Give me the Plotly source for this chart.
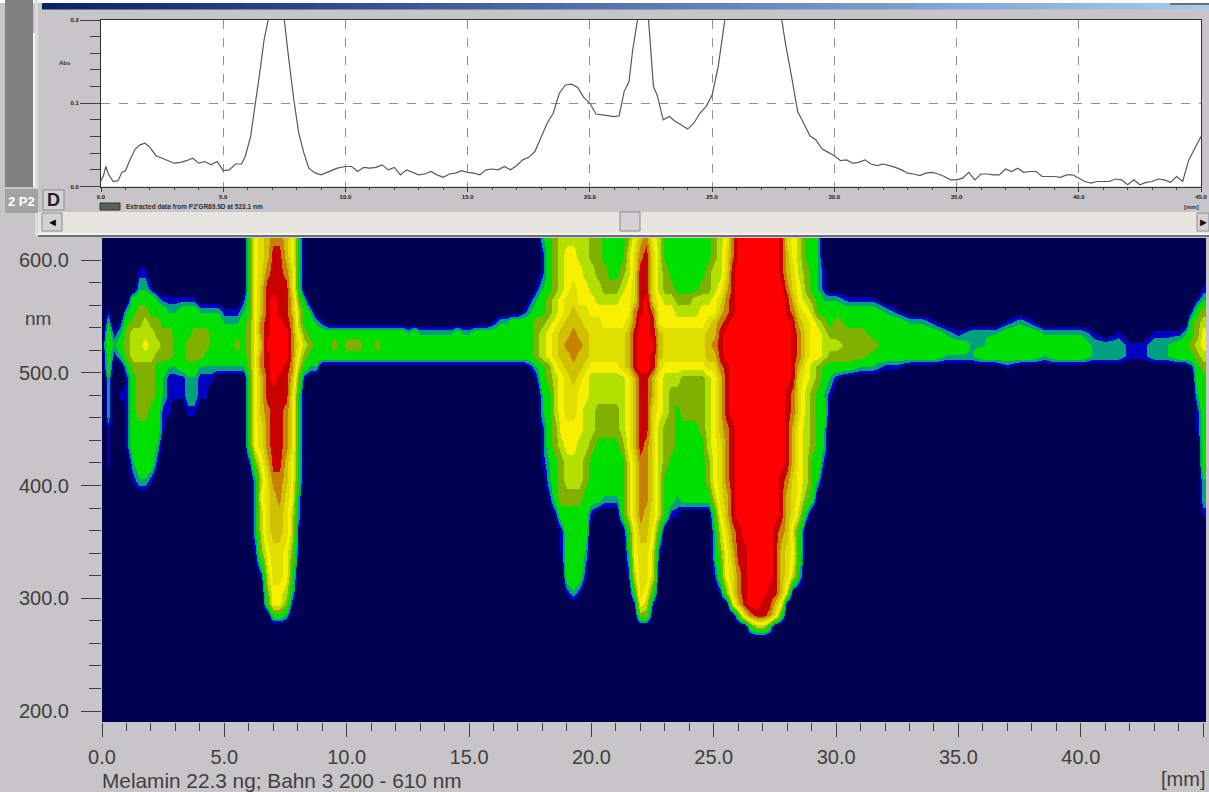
import plotly.graph_objects as go

W, H = 1209, 792
BG = "#c8c5c8"
INK = "#404040"

# Absorbance trace (upper panel): position in mm, absorbance in AU
curve_mm = [0.0,0.1,0.2,0.3,0.5,0.7,0.85,1.0,1.2,1.4,1.6,1.8,2.0,2.25,2.5,2.75,3.0,3.25,3.5,3.75,4.0,4.25,4.5,4.75,5.0,5.25,5.5,5.75,5.9,6.12,6.33,6.53,6.67,6.83,7.0,7.15,7.3,7.5,7.67,7.88,8.09,8.3,8.5,8.78,9.0,9.3,9.67,
10.0,10.25,10.5,10.75,11.0,11.25,11.5,11.75,12.0,12.25,12.5,12.75,13.0,13.25,13.5,13.75,14.0,14.25,14.5,14.75,15.0,15.25,15.5,15.75,16.0,16.25,16.5,16.75,17.0,17.25,17.5,17.75,18.0,18.25,18.5,18.75,19.0,19.25,19.5,19.75,20.0,20.25,20.5,20.75,21.0,21.2,21.4,21.6,21.75,21.95,22.15,22.4,22.6,22.75,23.0,23.25,23.5,23.75,24.0,24.25,24.5,24.75,25.0,25.25,25.5,26.0,26.8,27.5,27.85,28.0,28.25,28.5,28.75,29.0,29.25,29.5,29.75,
30.0,30.25,30.5,30.75,31.0,31.25,31.5,31.75,32.0,32.25,32.5,32.75,33.0,33.25,33.5,33.75,34.0,34.25,34.5,34.75,35.0,35.25,35.5,35.75,36.0,36.25,36.5,36.75,37.0,37.25,37.5,37.75,38.0,38.25,38.5,38.75,39.0,39.25,39.5,39.75,40.0,40.25,40.5,40.75,41.0,41.25,41.5,41.75,42.0,42.25,42.5,42.75,43.0,43.25,43.5,43.75,44.0,44.25,44.5,44.75,45.0]
curve_abs = [.007,.013,.024,.015,.006,.007,.017,.019,.033,.045,.05,.052,.047,.037,.034,.031,.028,.029,.031,.034,.028,.03,.026,.03,.019,.02,.027,.027,.036,.06,.1,.144,.176,.2,.235,.245,.235,.2,.156,.106,.064,.04,.022,.016,.014,.018,.022,
.024,.024,.018,.023,.022,.023,.026,.02,.023,.014,.02,.017,.014,.015,.018,.014,.011,.015,.016,.019,.017,.016,.014,.02,.021,.02,.024,.02,.025,.032,.035,.042,.058,.076,.088,.112,.122,.123,.119,.107,.1,.087,.086,.085,.084,.085,.114,.126,.164,.2,.25,.2,.12,.11,.08,.084,.078,.074,.069,.076,.088,.096,.11,.144,.2,.3,.36,.3,.2,.172,.132,.09,.076,.061,.056,.045,.041,
.037,.031,.032,.028,.029,.032,.027,.025,.027,.025,.023,.02,.016,.015,.013,.016,.017,.015,.012,.008,.008,.01,.017,.008,.015,.015,.014,.014,.021,.018,.022,.017,.018,.018,.012,.012,.012,.011,.014,.014,.01,.006,.004,.006,.006,.006,.009,.008,.002,.008,.002,.005,.006,.009,.008,.005,.012,.006,.032,.046,.06]

# Contour map (lower panel): rows are wavelengths, characters are colour levels 0-b
wavelength_nm = [620,605,590,575,565,555,545,535,525,515,505,495,480,465,450,435,420,405,390,375,360,340,320,305,295,285,275,265,190]

# one group per mm, 4 columns each, 0-30 mm
levels_0_30mm = [
"0000 0000 0000 0000 0000 0000 3678 9986 3000 0000 0000 0000 0000 0000 0000 0000 0000 0000 2345 5555 4433 3346 8965 3333 3333 4569 bbbb bbba 7653 3200",
"0000 0000 0000 0000 0000 0000 3678 aa86 3000 0000 0000 0000 0000 0000 0000 0000 0000 0000 1345 6655 4433 3357 9a75 3333 3333 4579 bbbb bbba 8653 3200",
"0000 0011 0000 0000 0000 0000 3679 aa97 3000 0000 0000 0000 0000 0000 0000 0000 0000 0000 1345 6665 5443 3457 aa75 4333 3334 557a bbbb bbba 8754 3210",
"0000 0022 1000 0000 0000 0000 368a aaa7 3000 0000 0000 0000 0000 0000 0000 0000 0000 0001 2345 6766 5544 4567 aa75 4433 3344 568a bbbb bbbb 9764 3210",
"0000 0333 3211 1111 0000 0001 368a baa8 4200 0000 0000 0000 0000 0000 0000 0000 0000 0012 3456 7766 6555 5667 ab76 5544 4555 679a bbbb bbbb a865 4322",
"0100 2344 3332 2333 2222 1112 368a baa8 5320 0000 0000 0000 0000 0000 0000 0000 0000 0123 3456 7877 6666 6669 ab96 6655 5566 689a bbbb bbbb a976 5333",
"0201 3445 4433 3333 3333 2223 469a bba9 5332 1000 0000 0000 0000 0000 0000 0000 1223 3334 4567 8887 7766 6679 bba6 6666 6667 89ab bbbb bbbb ba87 6543",
"0312 4555 5444 3334 4433 3333 469a bbb9 6433 3333 3333 3333 3323 2222 2232 2333 3333 3334 5678 8988 7777 778a bba8 7777 7778 8abb bbbb bbbb ba97 6654",
"1323 4556 5544 3344 4433 3343 468b bbb9 7543 3343 4443 3433 3333 3333 3333 3333 3333 3334 5678 9998 7777 778a bbb8 7777 7778 9abb bbbb bbbb ba97 6655",
"0312 4555 5444 3344 4333 3333 469a bbb9 6433 3333 3333 3333 3333 3333 3333 3333 3333 3334 5678 8988 7777 778a bba8 7777 7778 8abb bbbb bbbb ba97 6654",
"0300 2444 4332 2333 2222 2222 469a bba9 5322 0000 0000 0000 0000 0000 0000 0000 0000 0012 3467 8887 6666 678a bba7 6666 6667 79ab bbbb bbbb ba86 5433",
"0200 1344 4321 1122 1110 0000 368a baa8 4100 0000 0000 0000 0000 0000 0000 0000 0000 0001 3456 7876 5555 5568 aa86 5554 4445 68ab bbbb bbbb ba76 5432",
"0201 1344 4321 1122 1100 0000 368a aaa7 3000 0000 0000 0000 0000 0000 0000 0000 0000 0000 2356 7766 5555 5568 aa86 5444 4445 68ab bbbb bbbb a975 4321",
"0200 1344 3311 0011 0000 0000 3689 aa97 3000 0000 0000 0000 0000 0000 0000 0000 0000 0000 2356 7765 5444 4568 aa76 5434 4445 68ab bbbb bbbb a975 4330",
"0100 1333 3310 0000 0000 0000 3679 aa97 3000 0000 0000 0000 0000 0000 0000 0000 0000 0000 1346 6665 5444 4568 aa75 4433 3345 689a bbbb bbbb a865 4320",
"0100 1333 3200 0000 0000 0000 3679 aa97 3000 0000 0000 0000 0000 0000 0000 0000 0000 0000 1345 6655 4333 3468 a975 4433 3335 679a bbbb bbbb a865 4320",
"0100 0233 3100 0000 0000 0000 1468 aa86 3000 0000 0000 0000 0000 0000 0000 0000 0000 0000 1234 5554 3333 3357 9975 4333 3334 679a bbbb bbbb a865 3310",
"0000 0122 1000 0000 0000 0000 0257 9986 3000 0000 0000 0000 0000 0000 0000 0000 0000 0000 0234 5554 3333 3357 9975 3333 3334 679a bbbb bbba 9765 3200",
"0000 0000 0000 0000 0000 0000 0267 8976 2000 0000 0000 0000 0000 0000 0000 0000 0000 0000 0134 4443 3322 2357 9975 3323 3333 578a bbbb bbba 8764 3000",
"0000 0000 0000 0000 0000 0000 0257 8875 2000 0000 0000 0000 0000 0000 0000 0000 0000 0000 0013 3333 1000 0357 9875 3110 0000 368a bbbb bbba 8752 0000",
"0000 0000 0000 0000 0000 0000 0257 8875 1000 0000 0000 0000 0000 0000 0000 0000 0000 0000 0001 3333 0000 0036 8863 0000 0000 2579 abbb bba9 8530 0000",
"0000 0000 0000 0000 0000 0000 0146 7764 1000 0000 0000 0000 0000 0000 0000 0000 0000 0000 0001 3332 0000 0026 7751 0000 0000 2468 aabb bba8 7630 0000",
"0000 0000 0000 0000 0000 0000 0015 7763 0000 0000 0000 0000 0000 0000 0000 0000 0000 0000 0000 3331 0000 0015 7750 0000 0000 1367 9abb bba8 7520 0000",
"0000 0000 0000 0000 0000 0000 0004 6652 0000 0000 0000 0000 0000 0000 0000 0000 0000 0000 0000 1210 0000 0003 7630 0000 0000 0147 9abb baa8 5000 0000",
"0000 0000 0000 0000 0000 0000 0003 6641 0000 0000 0000 0000 0000 0000 0000 0000 0000 0000 0000 0000 0000 0001 6510 0000 0000 0005 8abb aa86 0000 0000",
"0000 0000 0000 0000 0000 0000 0000 3320 0000 0000 0000 0000 0000 0000 0000 0000 0000 0000 0000 0000 0000 0000 4400 0000 0000 0000 379a a973 0000 0000",
"0000 0000 0000 0000 0000 0000 0000 0000 0000 0000 0000 0000 0000 0000 0000 0000 0000 0000 0000 0000 0000 0000 0000 0000 0000 0000 0035 5300 0000 0000",
"0000 0000 0000 0000 0000 0000 0000 0000 0000 0000 0000 0000 0000 0000 0000 0000 0000 0000 0000 0000 0000 0000 0000 0000 0000 0000 0000 0000 0000 0000",
"0000 0000 0000 0000 0000 0000 0000 0000 0000 0000 0000 0000 0000 0000 0000 0000 0000 0000 0000 0000 0000 0000 0000 0000 0000 0000 0000 0000 0000 0000",
]

# 30-44 mm in 0.5 mm columns, then 44, 44.25, 44.5, 44.75, 45, 45.1
levels_30_45mm = [
"00 00 00 00 00 00 00 00 00 00 00 00 00 00 000000",
"00 00 00 00 00 00 00 00 00 00 00 00 00 00 000000",
"00 00 00 00 00 00 00 00 00 00 00 00 00 00 000000",
"00 00 00 00 00 00 00 00 00 00 00 00 00 00 000011",
"21 11 00 00 00 00 00 00 00 00 00 00 00 00 000122",
"33 33 21 00 00 00 00 00 00 00 00 00 00 00 001344",
"43 33 33 22 10 00 00 12 10 00 00 00 00 00 003455",
"44 43 33 33 32 12 22 33 32 22 21 01 00 11 123466",
"54 44 33 33 33 32 23 33 33 33 32 22 11 22 334566",
"44 43 33 33 32 22 33 33 32 33 32 22 11 22 333455",
"33 22 11 00 00 00 00 10 00 00 00 00 00 00 001344",
"10 00 00 00 00 00 00 00 00 00 00 00 00 00 000333",
"00 00 00 00 00 00 00 00 00 00 00 00 00 00 000233",
"00 00 00 00 00 00 00 00 00 00 00 00 00 00 000133",
"00 00 00 00 00 00 00 00 00 00 00 00 00 00 000133",
"00 00 00 00 00 00 00 00 00 00 00 00 00 00 000033",
"00 00 00 00 00 00 00 00 00 00 00 00 00 00 000033",
"00 00 00 00 00 00 00 00 00 00 00 00 00 00 000022",
"00 00 00 00 00 00 00 00 00 00 00 00 00 00 000022",
"00 00 00 00 00 00 00 00 00 00 00 00 00 00 000011",
"00 00 00 00 00 00 00 00 00 00 00 00 00 00 000000",
"00 00 00 00 00 00 00 00 00 00 00 00 00 00 000000",
"00 00 00 00 00 00 00 00 00 00 00 00 00 00 000000",
"00 00 00 00 00 00 00 00 00 00 00 00 00 00 000000",
"00 00 00 00 00 00 00 00 00 00 00 00 00 00 000000",
"00 00 00 00 00 00 00 00 00 00 00 00 00 00 000000",
"00 00 00 00 00 00 00 00 00 00 00 00 00 00 000000",
"00 00 00 00 00 00 00 00 00 00 00 00 00 00 000000",
"00 00 00 00 00 00 00 00 00 00 00 00 00 00 000000",
]

level_colors = ["#000050","#0000c0","#00a080","#00e000","#80b000","#b4e000","#f8f000","#e0e000","#d0c000","#c88000","#c80000","#ff0000"]
# upper bound of each colour, in level units (outer rings are thin in the picture)
level_tops = [0.8,1.4,2.1,3.5,4.5,5.5,6.5,7.5,8.5,9.5,10.5,11.5]

column_mm = [i*0.25 for i in range(120)] + [30+i*0.5 for i in range(28)] + [44,44.25,44.5,44.75,45,45.1]

z = []
for n, (a, b) in enumerate(zip(levels_0_30mm, levels_30_45mm)):
    row = [int(c, 16) for c in (a+b).replace(" ", "")]
    if len(row) != len(column_mm):
        raise ValueError(f"row {n}: {len(row)} != {len(column_mm)}")
    z.append(row)
z = z[::-1]
nm_up = wavelength_nm[::-1]

ZMIN, ZMAX = -0.5, 11.5
def frac(v): return (v-ZMIN)/(ZMAX-ZMIN)
cs = []
low = ZMIN
for top, c in zip(level_tops, level_colors):
    cs += [[frac(low), c], [frac(top), c]]
    low = top

def fx(px): return px/W
def fy(py): return 1-py/H

fig = go.Figure()
fig.add_trace(go.Heatmap(x=column_mm, y=nm_up, z=z, zmin=ZMIN, zmax=ZMAX, colorscale=cs,
                         zsmooth="best", showscale=False, hoverinfo="skip", xaxis="x", yaxis="y"))
fig.add_trace(go.Scatter(x=curve_mm, y=curve_abs, mode="lines", line=dict(color="#585858", width=1.2),
                         showlegend=False, hoverinfo="skip", xaxis="x2", yaxis="y2"))

shapes = []
def rect(x0, y0, x1, y1, fill, line=None, layer="below"):
    shapes.append(dict(type="rect", xref="paper", yref="paper", x0=fx(x0), x1=fx(x1), y0=fy(y1), y1=fy(y0),
                       fillcolor=fill, line=dict(width=1 if line else 0, color=line or fill), layer=layer))

rect(0, 0, W, 3, "#ffffff")
rect(5, 0, 33, 187, "#7f7f7f")
rect(33, 33, 35, 187, "#f4f4f4")
rect(35, 0, 38, 236, "#dcdcdc")
rect(5, 189, 38, 213, "#a3a3a3")
rect(38, 212, W, 233, "#e6e5e0")
rect(38, 233, W, 235, "#f0f0f0")
rect(38, 235, W, 237, "#707070")
# title bar
steps = 80
for i in range(steps):
    t = i/(steps-1)
    col = "rgb(%d,%d,%d)" % (10+t*(166-10), 36+t*(202-36), 106+t*(240-106))
    x0 = 42+(W-42)*i/steps
    rect(x0, 3, x0+(W-42)/steps+0.5, 9.5, col)
rect(1170, 3, W, 5, "#707070")
# buttons
for (a, b, c, d) in [(43, 190, 64, 210), (42, 213, 62, 231), (620, 212, 640, 231), (1197, 213, W, 231)]:
    rect(a, b, c, d, "#d4d2d4", "#8a8a8a")
rect(100, 203, 120, 210, "#586058", "#303030")

def ann(text, x, y, size, anchor="left", color=INK, bold=False):
    return dict(text=f"<b>{text}</b>" if bold else text, xref="paper", yref="paper", x=fx(x), y=fy(y), showarrow=False,
                xanchor=anchor, yanchor="middle", font=dict(family="Liberation Sans", size=size, color=color))

annotations = [
    ann("Melamin 22.3 ng; Bahn 3 200 - 610 nm", 100, 780, 20.8),
    ann("[mm]", 1207, 779, 20, "right"),
    ann("nm", 38, 318, 19, "center"),
    ann("2 P2", 21, 201, 13, "center", "#ffffff", True),
    ann("D", 53, 200, 18, "center", "#202020", True),
    ann("◄", 52, 222, 11, "center", "#000000"),
    ann("►", 1203, 222, 11, "center", "#000000"),
    ann("Extracted data from P2'GR89.9D at 523.1 nm", 124, 206, 6.5, "left", "#303030", True),
    ann("[mm]", 1191, 207, 6, "center", "#303030", True),
    ann("Abs", 65, 63, 6, "center", "#303030", True),
]

tk = dict(ticks="outside", tickcolor="#404040", tickwidth=1, automargin=False)
fig.update_layout(
    width=W, height=H, margin=dict(l=0, r=0, t=0, b=0), autosize=False,
    paper_bgcolor=BG, plot_bgcolor="#ffffff", showlegend=False, shapes=shapes, annotations=annotations,
    xaxis=dict(domain=[fx(102), fx(1206)], range=[0, (1206-102)/24.47], anchor="y", dtick=5, tick0=0, tickformat=".1f",
               ticklen=14, minor=dict(dtick=1, ticklen=8, ticks="outside", tickcolor="#404040"),
               showgrid=False, zeroline=False, showline=False, ticklabelstandoff=3,
               tickfont=dict(family="Liberation Sans", size=20, color=INK), **tk),
    yaxis=dict(domain=[fy(722), fy(238)], range=[600-(722-260)/1.1275, 600+(260-238)/1.1275], anchor="x", dtick=100, tick0=200, tickformat=".1f",
               ticklen=20, minor=dict(dtick=20, ticklen=12, ticks="outside", tickcolor="#404040"),
               showgrid=False, zeroline=False, showline=False, ticklabelstandoff=8,
               tickfont=dict(family="Liberation Sans", size=20, color=INK), **tk),
    xaxis2=dict(domain=[fx(101), fx(1201)], range=[0, 45], anchor="y2", dtick=5, tick0=0, tickformat=".1f",
                ticklen=4, minor=dict(dtick=1, ticklen=2, ticks="outside", tickcolor="#404040"),
                showgrid=True, gridcolor="#909090", griddash="dash", gridwidth=1, zeroline=False,
                showline=True, linecolor="#303030", mirror=True, ticklabelstandoff=0,
                tickfont=dict(family="Liberation Sans", size=6, color="#202020", weight="bold"), **tk),
    yaxis2=dict(domain=[fy(186.5), fy(20)], range=[0, 0.2], anchor="x2", dtick=0.1, tick0=0, tickformat=".1f",
                ticklen=20, minor=dict(dtick=0.02, ticklen=10, ticks="outside", tickcolor="#404040"),
                showgrid=True, gridcolor="#909090", griddash="dash", gridwidth=1, zeroline=False,
                showline=True, linecolor="#303030", mirror=True, ticklabelstandoff=0,
                tickfont=dict(family="Liberation Sans", size=6, color="#202020", weight="bold"), **tk),
)

fig.write_html("out.html", config=dict(displayModeBar=False),
               post_script="document.body.style.margin='0';document.body.style.overflow='hidden';")
